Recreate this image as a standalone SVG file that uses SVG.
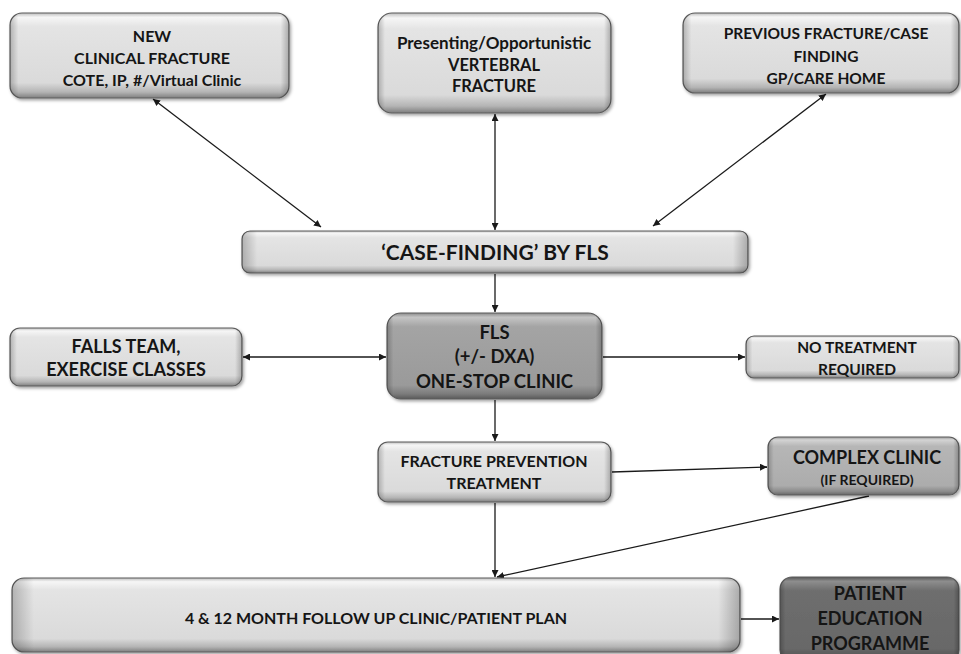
<svg xmlns="http://www.w3.org/2000/svg" width="961" height="654" viewBox="0 0 961 654">
<style>
.box{stroke:#5c5c5c;stroke-width:1.2;filter:url(#sh)}
.lt{fill:url(#gLight)}
.md{fill:url(#gMed)}
.mc{fill:url(#gMedC)}
.dk{fill:url(#gDark)}
.hl{fill:url(#gSide);stroke:none}
text{font-family:Lato,"Liberation Sans",sans-serif;font-weight:700;fill:#151515;text-anchor:middle}
.c line{stroke:#1a1a1a;stroke-width:1.3;fill:none}
</style>
<defs>
<linearGradient id="gLight" x1="0" y1="0" x2="0" y2="1">
<stop offset="0" stop-color="#bdbdbd"/><stop offset="0.05" stop-color="#f6f6f6"/><stop offset="0.16" stop-color="#e4e4e4"/><stop offset="0.82" stop-color="#dadada"/><stop offset="0.93" stop-color="#b4b4b4"/><stop offset="1" stop-color="#7e7e7e"/>
</linearGradient>
<linearGradient id="gMed" x1="0" y1="0" x2="0" y2="1">
<stop offset="0" stop-color="#8a8a8a"/><stop offset="0.05" stop-color="#c4c4c4"/><stop offset="0.16" stop-color="#a4a4a4"/><stop offset="0.84" stop-color="#9a9a9a"/><stop offset="0.94" stop-color="#7c7c7c"/><stop offset="1" stop-color="#5a5a5a"/>
</linearGradient>
<linearGradient id="gMedC" x1="0" y1="0" x2="0" y2="1">
<stop offset="0" stop-color="#9a9a9a"/><stop offset="0.05" stop-color="#d4d4d4"/><stop offset="0.16" stop-color="#b6b6b6"/><stop offset="0.84" stop-color="#acacac"/><stop offset="0.94" stop-color="#8a8a8a"/><stop offset="1" stop-color="#666"/>
</linearGradient>
<linearGradient id="gDark" x1="0" y1="0" x2="0" y2="1">
<stop offset="0" stop-color="#555"/><stop offset="0.05" stop-color="#8e8e8e"/><stop offset="0.16" stop-color="#6e6e6e"/><stop offset="0.84" stop-color="#686868"/><stop offset="1" stop-color="#4a4a4a"/>
</linearGradient>
<linearGradient id="gSide" x1="0" y1="0" x2="1" y2="0">
<stop offset="0" stop-color="#000" stop-opacity="0.22"/><stop offset="0.03" stop-color="#000" stop-opacity="0"/><stop offset="0.97" stop-color="#000" stop-opacity="0"/><stop offset="1" stop-color="#000" stop-opacity="0.25"/>
</linearGradient>
<filter id="sh" x="-5%" y="-10%" width="112%" height="130%">
<feDropShadow dx="1.5" dy="2" stdDeviation="1.5" flood-color="#000" flood-opacity="0.35"/>
</filter>
<marker id="ah" viewBox="0 0 10 10" refX="10" refY="5" markerWidth="7" markerHeight="7" markerUnits="userSpaceOnUse" orient="auto-start-reverse">
<path d="M0,0 L10,5 L0,10 z" fill="#1a1a1a"/>
</marker>
</defs>

<g class="c" id="connectors">
<line x1="153" y1="99" x2="321" y2="227" marker-start="url(#ah)" marker-end="url(#ah)"/>
<line x1="495" y1="114" x2="495" y2="230" marker-start="url(#ah)" marker-end="url(#ah)"/>
<line x1="826" y1="94" x2="653" y2="226" marker-start="url(#ah)" marker-end="url(#ah)"/>
<line x1="495" y1="274" x2="495" y2="312" marker-end="url(#ah)"/>
<line x1="243" y1="357" x2="386" y2="357" marker-start="url(#ah)" marker-end="url(#ah)"/>
<line x1="603" y1="357" x2="745" y2="357" marker-end="url(#ah)"/>
<line x1="495" y1="400" x2="495" y2="441" marker-end="url(#ah)"/>
<line x1="612" y1="472" x2="767" y2="467" marker-end="url(#ah)"/>
<line x1="495" y1="503" x2="495" y2="577" marker-end="url(#ah)"/>
<line x1="869" y1="496" x2="497" y2="577" marker-end="url(#ah)"/>
<line x1="741" y1="619" x2="779" y2="619" marker-end="url(#ah)"/>
</g>

<g id="new-clinical-fracture">
<rect class="box lt" x="10" y="13" width="279" height="85" rx="12"/>
<rect class="hl" x="10" y="13" width="279" height="85" rx="12"/>
<text x="152" y="42" font-size="16">NEW</text>
<text x="152" y="64" font-size="16">CLINICAL FRACTURE</text>
<text x="152" y="86" font-size="16">COTE, IP, #/Virtual Clinic</text>
</g>

<g id="vertebral-fracture">
<rect class="box lt" x="378" y="13" width="233" height="100" rx="14"/>
<rect class="hl" x="378" y="13" width="233" height="100" rx="14"/>
<text x="494" y="49" font-size="17">Presenting/Opportunistic</text>
<text x="494" y="71" font-size="16.5">VERTEBRAL</text>
<text x="494" y="92" font-size="16.5">FRACTURE</text>
</g>

<g id="previous-fracture">
<rect class="box lt" x="683" y="13" width="276" height="80" rx="12"/>
<rect class="hl" x="683" y="13" width="276" height="80" rx="12"/>
<text x="826" y="39" font-size="15.5">PREVIOUS FRACTURE/CASE</text>
<text x="826" y="62" font-size="15.5">FINDING</text>
<text x="826" y="84" font-size="15.5">GP/CARE HOME</text>
</g>

<g id="case-finding">
<rect class="box lt" x="242" y="231" width="506" height="42" rx="8"/>
<rect class="hl" x="242" y="231" width="506" height="42" rx="8"/>
<text x="495" y="260" font-size="21">‘CASE-FINDING’ BY FLS</text>
</g>

<g id="falls-team">
<rect class="box lt" x="10" y="328" width="232" height="58" rx="10"/>
<rect class="hl" x="10" y="328" width="232" height="58" rx="10"/>
<text x="126" y="353" font-size="18">FALLS TEAM,</text>
<text x="126" y="376" font-size="18">EXERCISE CLASSES</text>
</g>

<g id="fls-clinic">
<rect class="box md" x="387" y="313" width="215" height="86" rx="14"/>
<rect class="hl" x="387" y="313" width="215" height="86" rx="14"/>
<text x="494.5" y="339" font-size="18.5">FLS</text>
<text x="494.5" y="363" font-size="18.5">(+/- DXA)</text>
<text x="494.5" y="388" font-size="18.5">ONE-STOP CLINIC</text>
</g>

<g id="no-treatment">
<rect class="box lt" x="746" y="336" width="213" height="42" rx="8"/>
<rect class="hl" x="746" y="336" width="213" height="42" rx="8"/>
<text x="857" y="353" font-size="15.5">NO TREATMENT</text>
<text x="857" y="375" font-size="15.5">REQUIRED</text>
</g>

<g id="fracture-prevention">
<rect class="box lt" x="378" y="442" width="233" height="60" rx="10"/>
<rect class="hl" x="378" y="442" width="233" height="60" rx="10"/>
<text x="494" y="467" font-size="16">FRACTURE PREVENTION</text>
<text x="494" y="489" font-size="16">TREATMENT</text>
</g>

<g id="complex-clinic">
<rect class="box mc" x="768" y="437" width="191" height="58" rx="10"/>
<rect class="hl" x="768" y="437" width="191" height="58" rx="10"/>
<text x="867" y="464" font-size="18">COMPLEX CLINIC</text>
<text x="867" y="485" font-size="14">(IF REQUIRED)</text>
</g>

<g id="follow-up">
<rect class="box lt" x="12" y="578" width="728" height="74" rx="12"/>
<rect class="hl" x="12" y="578" width="728" height="74" rx="12"/>
<text x="376" y="624" font-size="16">4 &amp; 12 MONTH FOLLOW UP CLINIC/PATIENT PLAN</text>
</g>

<g id="patient-education">
<rect class="box dk" x="780" y="577" width="179" height="85" rx="12"/>
<rect class="hl" x="780" y="577" width="179" height="85" rx="12"/>
<text x="870" y="600" font-size="18">PATIENT</text>
<text x="870" y="625" font-size="18">EDUCATION</text>
<text x="870" y="650" font-size="18">PROGRAMME</text>
</g>
</svg>
